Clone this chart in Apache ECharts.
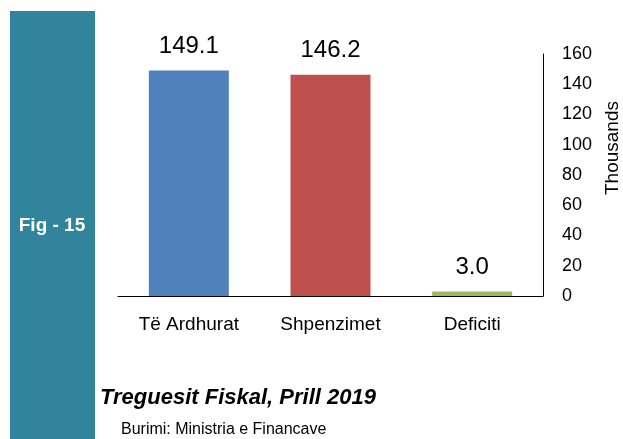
<!DOCTYPE html>
<html><head><meta charset="utf-8">
<script src="https://cdn.jsdelivr.net/npm/echarts@6/dist/echarts.min.js"></script>
<style>html,body{margin:0;padding:0;background:#fff}#c{width:623px;height:439px}</style>
</head><body><div id="c"></div>
<script>
var categories = ["Të Ardhurat", "Shpenzimet", "Deficiti"];
var values = [149.1, 146.2, 3.0];
var barColors = ["#4F81BD", "#C0504D", "#9BBB59"];
var yTicks = [0, 20, 40, 60, 80, 100, 120, 140, 160];

var chart = echarts.init(document.getElementById('c'));
chart.setOption({
  animation: false,
  grid: {left: 118, right: 80, top: 54, bottom: 143, outerBoundsMode: 'none', containLabel: false},
  xAxis: {
    type: 'category', data: categories,
    axisLine: {lineStyle: {color: '#000', width: 1}},
    axisTick: {show: false},
    axisLabel: {color: '#000', fontSize: 19, fontFamily: 'Liberation Sans, Arial', margin: 19}
  },
  yAxis: {
    type: 'value', position: 'right', min: yTicks[0], max: yTicks[yTicks.length-1], interval: 20,
    axisLine: {show: true, lineStyle: {color: '#000', width: 1}},
    axisTick: {show: false},
    splitLine: {show: false},
    axisLabel: {color: '#000', fontSize: 18, fontFamily: 'Liberation Sans, Arial', margin: 19}
  },
  series: [{
    type: 'bar', barWidth: 80,
    data: values.map(function(v, i){ return {value: v, itemStyle: {color: barColors[i]}}; }),
    label: {show: true, position: 'top', distance: 12, color: '#000', fontSize: 24,
      fontFamily: 'Liberation Sans, Arial', formatter: function(p){ return p.value.toFixed(1); }}
  }],
  graphic: [
    {type: 'rect', left: 10, top: 11, shape: {width: 85, height: 428}, style: {fill: '#31849B'}},
    {type: 'text', x: 52, y: 226, style: {text: 'Fig - 15', fill: '#fff', font: 'bold 19px "Liberation Sans", Arial', align: 'center', verticalAlign: 'middle'}},
    {type: 'text', x: 613, y: 148, rotation: Math.PI/2, style: {text: 'Thousands', fill: '#000', font: '19px "Liberation Sans", Arial', align: 'center', verticalAlign: 'middle'}},
    {type: 'text', x: 100, y: 398, style: {text: 'Treguesit Fiskal, Prill 2019', fill: '#000', font: 'italic bold 22px "Liberation Sans", Arial', verticalAlign: 'middle'}},
    {type: 'text', x: 121, y: 430, style: {text: 'Burimi: Ministria e Financave', fill: '#000', font: '16px "Liberation Sans", Arial', verticalAlign: 'middle'}}
  ]
});
</script></body></html>
